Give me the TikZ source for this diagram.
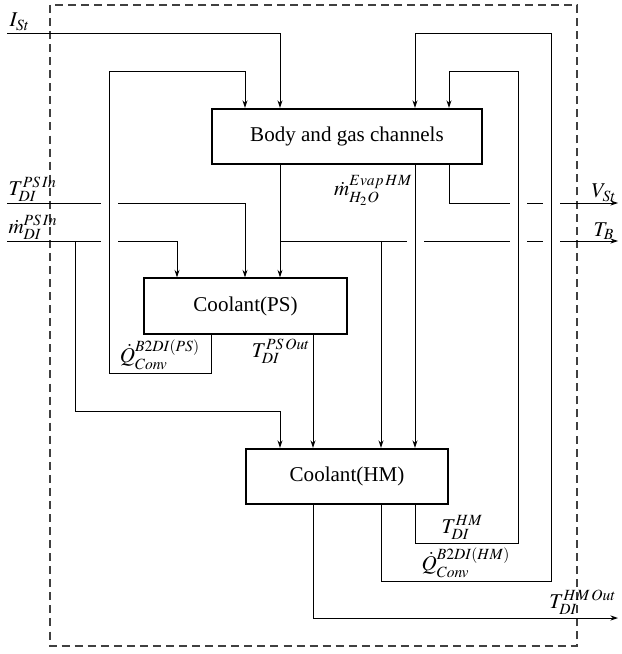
\documentclass[tikz,border=0pt]{standalone}
\usepackage{mathptmx}
\usepackage{fontspec}
\setmainfont{Liberation Serif}
\usetikzlibrary{arrows.meta,calc}
\tikzset{
	block/.style={draw, line width=1pt, minimum height=26.2pt, inner sep=0pt},
	hop/.style={draw=white, line width=2.4pt},
	frame/.style={draw=black!75, line width=0.5pt, dash pattern=on 3.8pt off 2.4pt}
}
\begin{document}
\begin{tikzpicture}[x=0.475pt, y=-0.475pt, line width=0.45pt, >={Stealth[length=3.6pt,width=2.4pt]}]
	\useasboundingbox (0,0) rectangle (621,654);
	\draw[frame] (50,5) rectangle (577,646);
	\node[block, minimum width=128.3pt] (body) at (347,136.5) {Body and gas channels};
	\node[block, minimum width=96.4pt] (ps) at (245.5,306) {Coolant(PS)};
	\node[block, minimum width=96pt] (hm) at (347,476.5) {Coolant(HM)};
	\foreach \n/\x in {a/75, b/109, c/177, d/211, e/245, f/280, g/313, h/381, i/415, j/449, k/518, l/551}
		\coordinate (c\n) at (\x,0);
	\foreach \n/\y in {1/33, 2/71, 3/203, 4/241, 5/373, 6/411, 7/543, 8/581, 9/618}
		\coordinate (r\n) at (0,\y);
	\coordinate (lft) at (7,0);
	\coordinate (rgt) at (618,0);
	\draw[->] (lft |- r3) node[above right, inner sep=0.5pt] {$T_{DI}^{PS\,In}$} -- (ce |- r3) -- (ce |- ps.north);
	\draw[->] (lft |- r4) node[above right, inner sep=0.5pt] {$\dot{m}_{DI}^{PS\,In}$} -- (cc |- r4) -- (cc |- ps.north);
	\draw[->] (cj |- body.south) -- (cj |- r3) -- (rgt |- r3) node[above left, inner sep=0.5pt] {$V_{St}$};
	\draw[->] (cf |- r4) -- (rgt |- r4) node[above left, inner sep=0.5pt, xshift=-1pt] {$T_B$};
	\foreach \c/\r in {b/3, k/3, l/3, b/4, i/4, k/4, l/4}
		\draw[hop] ($(c\c |- r\r)+(-8.5,0)$) -- ($(c\c |- r\r)+(8.5,0)$);
	\draw[->] (lft |- r1) node[above right, inner sep=1pt] {$I_{St}$} -- (cf |- r1) -- (cf |- body.north);
	\draw[->] (cd |- ps.south) -- (cd |- r5) -- node[above, inner sep=1.5pt] {$\dot{Q}_{Conv}^{B2DI(PS)}$} (cb |- r5) -- (cb |- r2) -- (ce |- r2) -- (ce |- body.north);
	\draw[->] (cf |- body.south) -- (cf |- ps.north);
	\draw[->] (ci |- body.south) node[below left, inner sep=1pt, yshift=-3.5pt] {$\dot{m}_{H_2O}^{Evap\,HM}$} -- (ci |- hm.north);
	\draw[->] (ch |- r4) -- (ch |- hm.north);
	\draw[->] (ca |- r4) -- (ca |- r6) -- (cf |- r6) -- (cf |- hm.north);
	\draw[->] (cg |- ps.south) node[below left, inner sep=1pt, yshift=-1pt] {$T_{DI}^{PS\,Out}$} -- (cg |- hm.north);
	\draw[->] (ch |- hm.south) -- (ch |- r8) -- node[above, inner sep=1.5pt] {$\dot{Q}_{Conv}^{B2DI(HM)}$} (cl |- r8) -- (cl |- r1) -- (ci |- r1) -- (ci |- body.north);
	\draw[->] (ci |- hm.south) -- (ci |- r7) -- node[above, inner sep=1.5pt, xshift=-2pt] {$T_{DI}^{HM}$} (ck |- r7) -- (ck |- r2) -- (cj |- r2) -- (cj |- body.north);
	\draw[->] (cg |- hm.south) -- (cg |- r9) -- (rgt |- r9) node[above left, inner sep=0.5pt, yshift=1pt] {$T_{DI}^{HM\,Out}$};
\end{tikzpicture}
\end{document}
